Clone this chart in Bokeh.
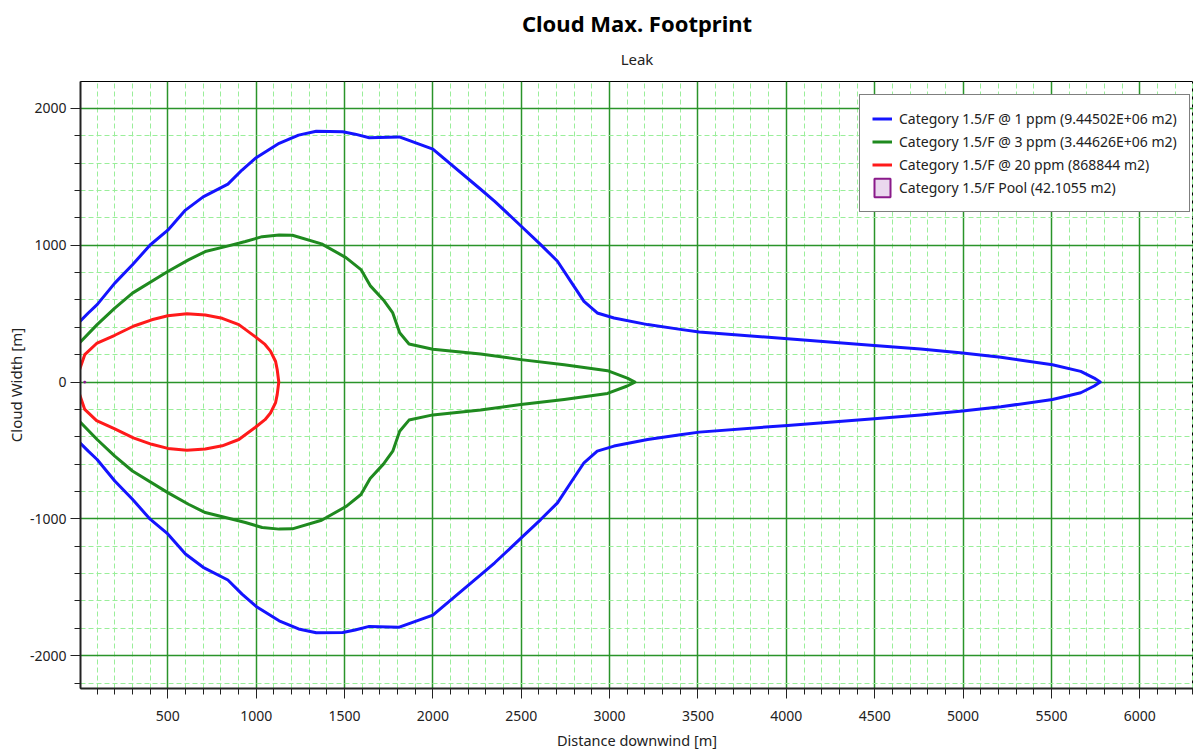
from bokeh.plotting import figure
from bokeh.models import (Title, SingleIntervalTicker, Range1d, Legend, LegendItem,
                          CustomJSTickFormatter)
from bokeh.embed import file_html
from bokeh.resources import INLINE

# ---- data (upper half-widths, contours are symmetric) ----
blue_x = [0, 50, 100, 200, 300, 400, 500, 600, 700, 840, 920, 1000, 1130, 1240, 1340, 1490,
          1560, 1640, 1810, 2000, 2265, 2350, 2500, 2610, 2705, 2780, 2855, 2930, 3025,
          3215, 3400, 3507, 4007, 4497, 4760, 4997, 5214, 5506, 5666, 5742, 5776]
blue_w = [440, 505, 566, 723, 857, 1002, 1110, 1257, 1354, 1447, 1550, 1640, 1745, 1805, 1833, 1830,
          1812, 1786, 1792, 1703, 1415, 1321, 1139, 1005, 883, 736, 590, 505, 468,
          420, 385, 366, 317, 268, 241, 212, 181, 127, 78, 29, 0]

green_x = [0, 100, 200, 300, 500, 617, 712, 826, 939, 1034, 1130, 1205, 1370, 1508,
           1593, 1645, 1720, 1773, 1812, 1865, 2000, 2270, 2498, 2743, 2988, 3100, 3143]
green_w = [286, 420, 541, 650, 808, 893, 954, 990, 1027, 1063, 1075, 1073, 1010, 910,
           822, 705, 600, 505, 360, 278, 240, 205, 164, 127, 83, 29, 0]

red_x = [0, 30, 97, 200, 305, 409, 500, 608, 712, 808, 902, 996, 1050, 1081, 1110, 1119, 1128]
red_w = [88, 200, 282, 342, 408, 455, 485, 499, 490, 466, 420, 330, 275, 226, 150, 92, 0]

pool_x = [27, 33, 33, 27]
pool_y = [-3, -3, 3, 3]

labels = ["Category 1.5/F @ 1 ppm (9.44502E+06 m2)",
          "Category 1.5/F @ 3 ppm (3.44626E+06 m2)",
          "Category 1.5/F @ 20 ppm (868844 m2)",
          "Category 1.5/F Pool (42.1055 m2)"]


def outline(xs, ws):
    # upper half out to the tip, then lower half back to the source
    px = list(xs) + list(reversed(xs[:-1]))
    py = list(ws) + [-w for w in reversed(ws[:-1])]
    return px, py


FONT = "Noto Sans"

p = figure(width=1193, height=752, output_backend="svg", toolbar_location=None,
           x_range=Range1d(6, 6304), y_range=Range1d(-2240, 2197),
           min_border_left=80, min_border_right=0, min_border_top=81, min_border_bottom=64)

p.add_layout(Title(text="Leak", align="center", text_font=FONT, text_font_size="15px",
                   text_font_style="normal", text_color="#222222", standoff=22,
                   vertical_align="top"), "above")
p.add_layout(Title(text="Cloud Max. Footprint", align="center", text_font=FONT,
                   text_font_size="22px", text_font_style="bold", text_color="#000000",
                   standoff=0), "above")

p.background_fill_color = "white"
p.border_fill_color = "white"
p.outline_line_color = "black"
p.outline_line_width = 1

p.xaxis.ticker = SingleIntervalTicker(interval=500, num_minor_ticks=5)
p.yaxis.ticker = SingleIntervalTicker(interval=1000, num_minor_ticks=5)
p.yaxis.formatter = CustomJSTickFormatter(code="return tick.toFixed(0);")

for ax in (p.xaxis, p.yaxis):
    ax.axis_line_color = "#222222"
    ax.axis_line_width = 2
    ax.major_tick_line_color = "#222222"
    ax.minor_tick_line_color = "#222222"
    ax.major_tick_out = 10
    ax.major_tick_in = 0
    ax.minor_tick_out = 6
    ax.minor_tick_in = 0
    ax.major_label_text_font = FONT
    ax.major_label_text_font_size = "14px"
    ax.major_label_text_color = "#222222"
    ax.axis_label_text_font = FONT
    ax.axis_label_text_font_style = "normal"
    ax.axis_label_text_color = "#222222"

p.xaxis.axis_label = "Distance downwind [m]"
p.yaxis.axis_label = "Cloud Width [m]"
p.xaxis.axis_label_text_font_size = "14.5px"
p.yaxis.axis_label_text_font_size = "15px"
p.xaxis.major_label_standoff = 12
p.xaxis.axis_label_standoff = 6
p.yaxis.major_label_standoff = 4
p.yaxis.axis_label_standoff = 1

for g in (p.xgrid, p.ygrid):
    g.grid_line_color = "#2a942a"
    g.grid_line_width = 1.5
    g.minor_grid_line_color = "#9aee9a"
    g.minor_grid_line_dash = "5 3"
    g.minor_grid_line_width = 1

bx, by = outline(blue_x, blue_w)
gx, gy = outline(green_x, green_w)
rx, ry = outline(red_x, red_w)

r1 = p.line(bx, by, line_color="#1414ff", line_width=3, line_join="round")
r2 = p.line(gx, gy, line_color="#1f8a1f", line_width=3, line_join="round")
r3 = p.line(rx, ry, line_color="#ff1a1a", line_width=3, line_join="round")
r4 = p.patch(pool_x, pool_y, fill_color="#ead8ee", line_color="#8a1a8a", line_width=2)

legend = Legend(items=[LegendItem(label=labels[0], renderers=[r1]),
                       LegendItem(label=labels[1], renderers=[r2]),
                       LegendItem(label=labels[2], renderers=[r3]),
                       LegendItem(label=labels[3], renderers=[r4])],
                location=(779, 476))
legend.border_line_color = "black"
legend.border_line_width = 1
legend.background_fill_color = "white"
legend.background_fill_alpha = 1
legend.label_text_font = FONT
legend.label_text_font_size = "14px"
legend.label_text_color = "#222222"
legend.glyph_width = 20
legend.glyph_height = 23
legend.label_height = 23
legend.spacing = 0
legend.padding = 12
legend.label_standoff = 7
legend.margin = 0
p.add_layout(legend)

open("out.html", "w").write(file_html(p, INLINE))
